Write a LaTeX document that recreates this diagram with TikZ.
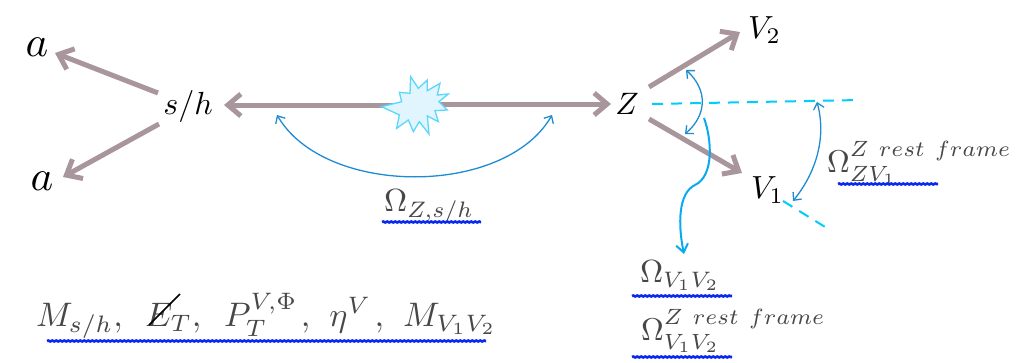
\documentclass[tikz,border=0pt]{standalone}
\usetikzlibrary{arrows.meta,decorations.pathmorphing}
\definecolor{shaft}{RGB}{168,150,156}
\definecolor{arcblue}{RGB}{30,140,210}
\definecolor{curveblue}{RGB}{10,170,240}
\definecolor{dashcyan}{RGB}{0,205,250}
\definecolor{starfill}{RGB}{224,245,254}
\definecolor{starline}{RGB}{90,215,250}
\definecolor{wavy}{RGB}{10,40,240}
\tikzset{
  x=1pt,y=-1pt,
  lab/.style={inner sep=0pt,outer sep=0pt,scale=#1},
  softlab/.style={inner sep=0pt,outer sep=0pt,scale=#1,text=black!72},
  heavy/.style={draw=shaft,line width=5pt,-{Straight Barb[length=13pt,width=22pt,line width=5pt]}},
  anglearc/.style={draw=arcblue,line width=1.3pt,{Straight Barb[length=6pt,width=11pt]}-{Straight Barb[length=6pt,width=11pt]}},
  framedash/.style={draw=dashcyan,line width=2pt,dash pattern=on 11pt off 8pt},
  pointer/.style={draw=curveblue,line width=2pt,-{Straight Barb[length=8pt,width=12pt]}},
  squiggle/.style={draw=wavy,line width=2.6pt,decorate,decoration={snake,amplitude=0.5pt,segment length=4pt}}
}
\begin{document}
\begin{tikzpicture}
\useasboundingbox (0,0) rectangle (1020,362);
% labels
\node[lab=4.3] (a1) at (37,47) {$a$};
\node[lab=4.3] (a2) at (42,181) {$a$};
\node[lab=3.2] (sh) at (188,106) {$s/h$};
\node[lab=3.1] (Z) at (627,104) {$Z$};
\node[lab=3.2,anchor=west] (V2) at (748,30) {$V_2$};
\node[lab=3.2,anchor=west] (V1) at (751,190) {$V_1$};
\node[softlab=3.2,anchor=west] (omZ) at (384,206) {$\Omega_{Z,s/h}$};
\node[softlab=3.2,anchor=west] (omV) at (640,276) {$\Omega_{V_1V_2}$};
\node[softlab=3.15,anchor=west] (omVr) at (641,331) {$\Omega^{Z\ rest\ frame}_{V_1V_2}$};
\node[softlab=3.15,anchor=west] (omZV) at (827,163) {$\Omega^{Z\ rest\ frame}_{ZV_1}$};
\node[softlab=3.4,anchor=west] (vars) at (36,316) {$M_{s/h},\kern5pt E_T,\kern5pt P_T^{V,\Phi}\kern1pt,\kern4pt \eta^V\kern1pt,\kern4pt M_{V_1V_2}$};
% anchors of connectors
\coordinate (sA) at (158,93);
\coordinate (sB) at (159,124);
\coordinate (a1t) at (55,53);
\coordinate (a2t) at (63,177);
\coordinate (sL) at (224,105);
\coordinate (zL) at (611,104);
\coordinate (starL) at (400,105);
\coordinate (starR) at (425,104);
\coordinate (zU) at (649,87);
\coordinate (zD) at (649,119);
\coordinate (v2t) at (740,32);
\coordinate (v1t) at (742,173);
\coordinate (d1a) at (652,104);
\coordinate (d1b) at (860,100);
\coordinate (d2a) at (783,201);
\coordinate (d2b) at (830,230);
% heavy arrows
\draw[heavy] (sA) -- (a1t);
\draw[heavy] (sB) -- (a2t);
\draw[heavy] (starL) -- (sL);
\draw[heavy] (starR) -- (zL);
\draw[heavy] (zU) -- (v2t);
\draw[heavy] (zD) -- (v1t);
% star
\filldraw[draw=starline,fill=starfill,line width=1.3pt,shift={(340,60)},x=0.3333pt,y=-0.3333pt]
 (212,50)--(235,85)--(262,60)--(262,92)--(300,70)--(292,105)--(325,102)--(297,125)--(322,150)--(285,152)--(295,185)--(262,168)--(267,222)--(238,185)--(220,215)--(205,180)--(170,205)--(178,165)--(125,140)--(185,125)--(178,97)--(210,100)--cycle;
% frame lines
\draw[framedash] (d1a) -- (d1b);
\draw[framedash] (d2a) -- (d2b);
% angle arcs
\coordinate (arcL) at (277,115);
\coordinate (arcR) at (552,115);
\draw[anglearc] (arcL) .. controls (325,197) and (505,197) .. (arcR);
\coordinate (angU) at (686,70);
\coordinate (angD) at (685,134);
\draw[anglearc] (angU) .. controls (708,90) and (707,115) .. (angD);
\coordinate (restU) at (817,102);
\coordinate (restD) at (793,201);
\draw[anglearc] (restU) .. controls (826,135) and (818,170) .. (restD);
% pointer
\coordinate (ptrS) at (704,118);
\coordinate (ptrE) at (684,254);
\draw[pointer] (ptrS) .. controls (712,140) and (714,176) .. (695,185) .. controls (678,193) and (678,225) .. (ptrE);
% slash through the E
\coordinate (slA) at (149,325);
\coordinate (slB) at (180,294);
\draw[black,line width=1.7pt] (slA) -- (slB);
% wavy underlines
\draw[squiggle] (382,222) -- (481,222);
\draw[squiggle] (47,341) -- (486,341);
\draw[squiggle] (632,296) -- (732,296);
\draw[squiggle] (632,357) -- (732,357);
\draw[squiggle] (838,184) -- (938,184);
\end{tikzpicture}
\end{document}
